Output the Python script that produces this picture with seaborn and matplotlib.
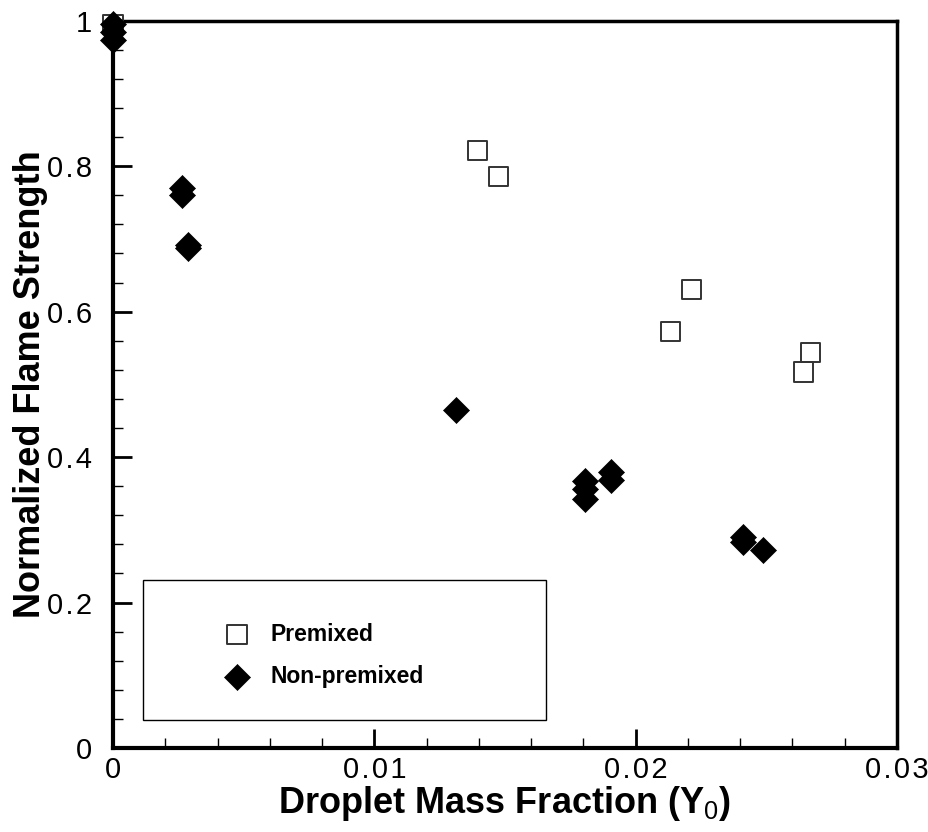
import numpy as np
import pandas as pd
import matplotlib
matplotlib.use("Agg")
import matplotlib.pyplot as plt
from matplotlib.patches import Rectangle
from matplotlib.ticker import MultipleLocator, FixedLocator
import seaborn as sns

# data
premixed_x = [0.0, 0.01394, 0.01475, 0.02213, 0.02133, 0.02670, 0.02643]
premixed_y = [0.995, 0.822, 0.786, 0.630, 0.573, 0.544, 0.517]

nonpremixed_x = [0.0, 0.0, 0.0, 0.00265, 0.00265, 0.00288, 0.00288, 0.01314,
                 0.01805, 0.01805, 0.01805, 0.01905, 0.01905, 0.02409, 0.02409, 0.02488]
nonpremixed_y = [0.995, 0.984, 0.974, 0.770, 0.760, 0.692, 0.687, 0.465,
                 0.367, 0.356, 0.342, 0.380, 0.369, 0.290, 0.283, 0.272]

sp = "\u200a"
x_ticks = [0, 0.01, 0.02, 0.03]
x_ticklabels = ["0", sp.join("0.01"), sp.join("0.02"), sp.join("0.03")]
y_ticks = [0, 0.2, 0.4, 0.6, 0.8, 1.0]
y_ticklabels = ["0", sp.join("0.2"), sp.join("0.4"), sp.join("0.6"), sp.join("0.8"), "1"]

sns.set_style("white")
plt.rcParams['font.family'] = ['Liberation Sans', 'DejaVu Sans']
plt.rcParams['mathtext.fontset'] = 'custom'
plt.rcParams['mathtext.rm'] = 'Liberation Sans'
plt.rcParams['mathtext.default'] = 'rm'
for key in ['text.color', 'axes.labelcolor', 'xtick.color', 'ytick.color']:
    plt.rcParams[key] = 'black'

df_pre = pd.DataFrame({"x": premixed_x, "y": premixed_y})
df_non = pd.DataFrame({"x": nonpremixed_x, "y": nonpremixed_y})

fig = plt.figure(figsize=(9.29, 8.32), dpi=100)
ax = fig.add_axes([0.1216, 0.101, 0.8440, 0.874])

sns.scatterplot(data=df_pre, x="x", y="y", marker="s", s=190, ax=ax,
                color="#333333", label="Premixed", clip_on=False, zorder=3)
ax.collections[-1].set_facecolor("none")
ax.collections[-1].set_edgecolor("#333333")
ax.collections[-1].set_linewidth(1.4)

sns.scatterplot(data=df_non, x="x", y="y", marker="D", s=175, ax=ax,
                color="black", edgecolor="black", linewidth=0.5,
                label="Non-premixed", clip_on=False, zorder=4)

ax.set_xlim(0, 0.03)
ax.set_ylim(0, 1.0)
ax.xaxis.set_major_locator(FixedLocator(x_ticks))
ax.set_xticklabels(x_ticklabels)
ax.yaxis.set_major_locator(FixedLocator(y_ticks))
ax.set_yticklabels(y_ticklabels)
ax.xaxis.set_minor_locator(MultipleLocator(0.002))
ax.yaxis.set_minor_locator(MultipleLocator(0.04))

ax.tick_params(which="both", direction="in", top=False, right=False,
               bottom=True, left=True, color="black", labelcolor="black")
ax.tick_params(which="major", length=14, width=2)
ax.tick_params(which="minor", length=7, width=1)
ax.tick_params(axis="both", which="major", labelsize=21)
ax.tick_params(axis="y", which="major", pad=15)
ax.tick_params(axis="x", which="major", pad=6)

for side in ["left", "bottom", "right", "top"]:
    ax.spines[side].set_color("black")
ax.spines["left"].set_linewidth(3)
ax.spines["bottom"].set_linewidth(3)
ax.spines["right"].set_linewidth(2.5)
ax.spines["top"].set_linewidth(2.5)

ax.set_xlabel(r"Droplet Mass Fraction (Y$_0$)", fontsize=26, fontweight="bold", labelpad=0)
ax.set_ylabel("Normalized Flame Strength", fontsize=26, fontweight="bold", labelpad=-1)

# legend box
ax.add_patch(Rectangle((0.038, 0.038), 0.514, 0.193, transform=ax.transAxes,
                       fill=False, edgecolor="black", linewidth=1, zorder=2))
leg = ax.legend(loc="center left", bbox_to_anchor=(0.126, 0.127), frameon=False,
                fontsize=16.5, handletextpad=0.85, labelspacing=0.85,
                borderpad=0, handlelength=1.2)
for t in leg.get_texts():
    t.set_fontweight("bold")

plt.savefig("out.png", dpi=100)
